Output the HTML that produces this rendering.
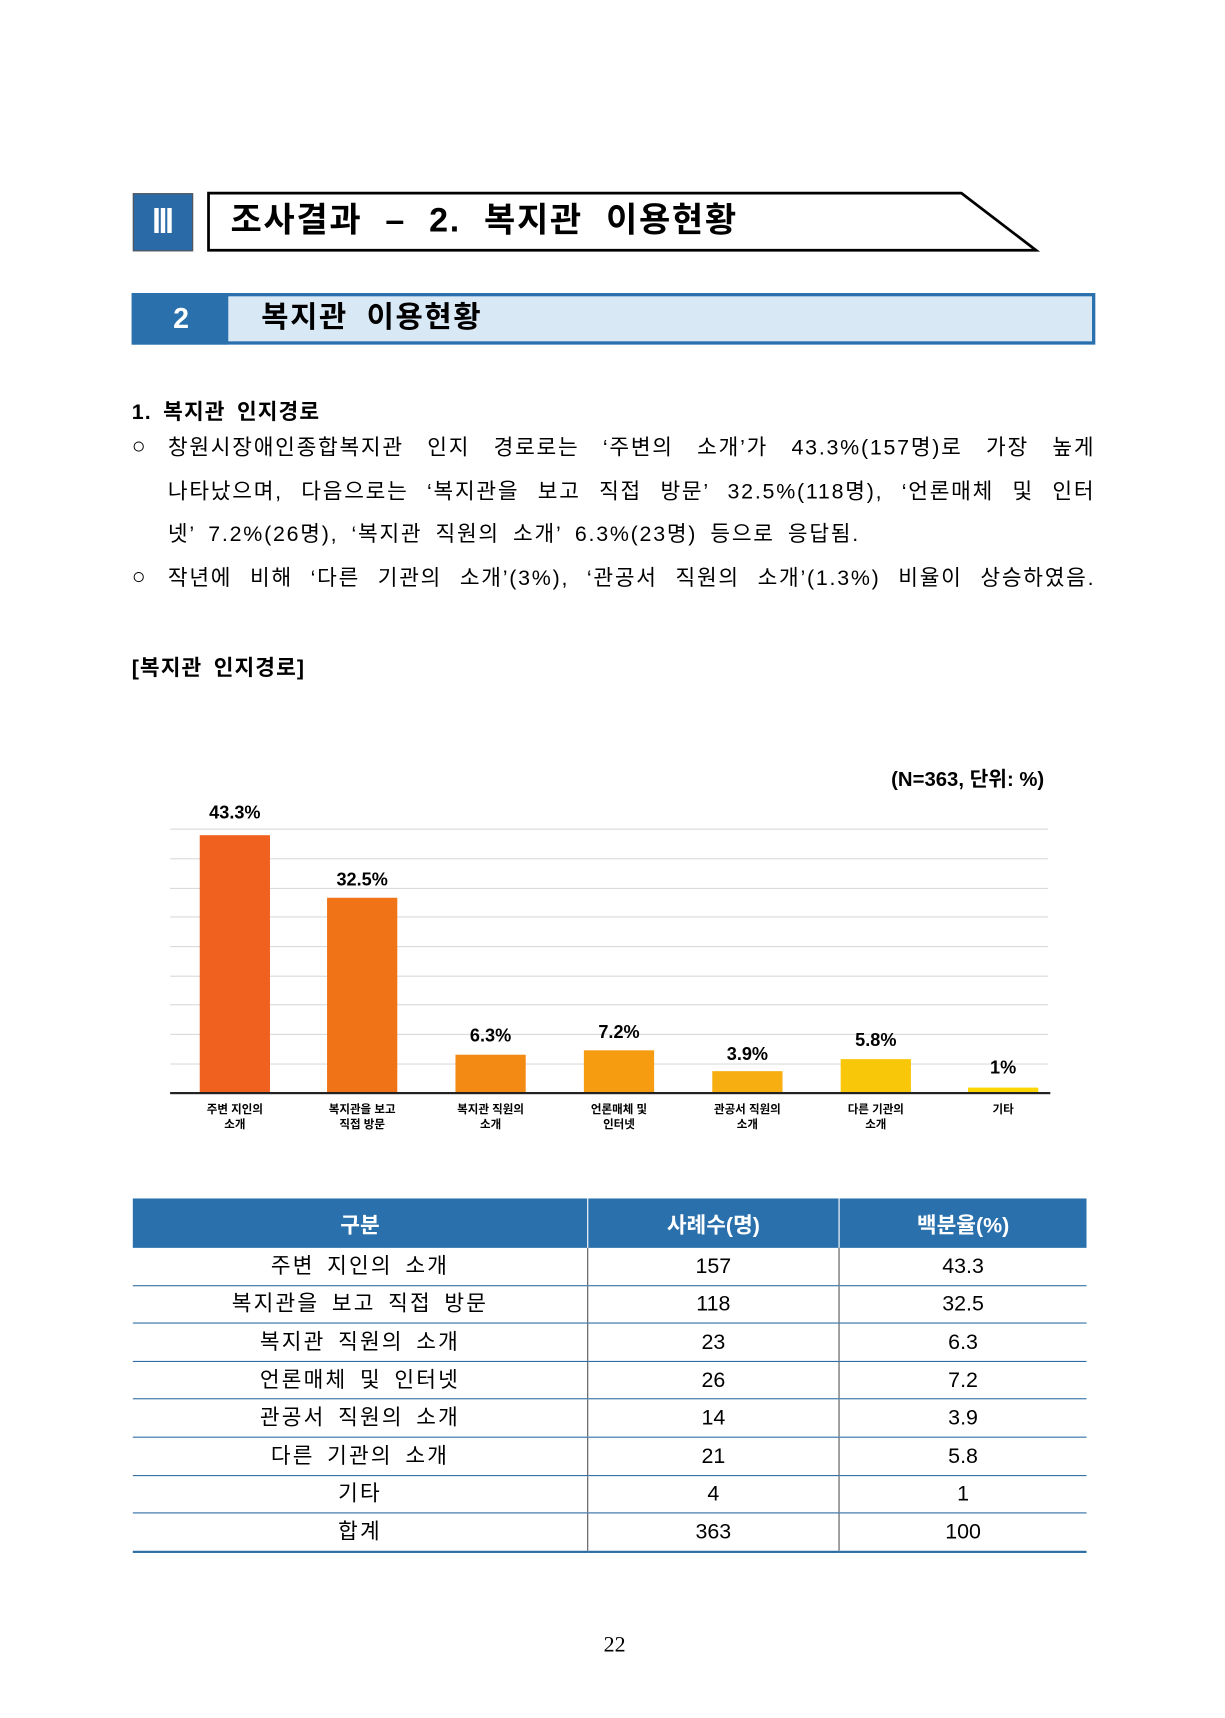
<!DOCTYPE html>
<html><head><meta charset="utf-8">
<style>
html,body{margin:0;padding:0;background:#fff;}
body{width:1225px;height:1718px;overflow:hidden;position:relative;}
#w{position:absolute;left:0;top:0;width:1110px;height:1557px;transform:scale(1.0975);transform-origin:0 0;font-family:"Liberation Sans","Noto Sans CJK KR",sans-serif;color:#000;}
.a{position:absolute;white-space:nowrap;}
.b{font-weight:bold;}
.j{position:absolute;left:153px;width:845px;font-size:19.5px;letter-spacing:1.6px;text-align:justify;text-align-last:justify;white-space:nowrap;line-height:24px;}
.ln{position:absolute;left:0;width:800px;height:1px;background:#d9d9d9;}
.bar{position:absolute;width:64px;}
.v{position:absolute;width:120px;text-align:center;font-weight:bold;font-size:16.5px;}
.xl{position:absolute;width:120px;text-align:center;font-weight:bold;font-size:10.5px;line-height:14px;}
table{position:absolute;left:121px;top:1092px;width:869px;border-collapse:collapse;font-size:19.5px;}
td{height:33.6px;padding:0;text-align:center;border-bottom:1px solid #2e6da4;line-height:24px;}
td.k{letter-spacing:2px;word-spacing:4px;}
td+td{border-left:1px solid #555;}
th{background:#2a70ad;color:#fff;height:45px;font-weight:bold;font-size:19.5px;padding:0;}
th+th{border-left:1px solid #fff;}
</style></head><body><div id="w">
<div class="a" style="left:121px;top:176px;width:55px;height:53px;background:#2a6aa6;border:1px solid #555;box-sizing:border-box;"></div>
<div class="a b" style="left:121px;top:176px;width:55px;height:53px;text-align:center;line-height:53px;color:#fff;font-size:30px;font-family:'Liberation Serif',serif;">Ⅲ</div>
<svg class="a" style="left:188px;top:174px" width="760" height="58"><polygon points="2,2 688,2 756,54 2,54" fill="#fff" stroke="#000" stroke-width="2.5"/></svg>
<div class="a b" style="left:210px;top:180px;font-size:31px;line-height:42px;letter-spacing:1.5px;word-spacing:11px;">조사결과 – 2. 복지관 이용현황</div>
<div class="a" style="left:120px;top:267px;width:878px;height:47px;background:#d8e8f5;border:3px solid #2a70ad;box-sizing:border-box;"></div>
<div class="a" style="left:120px;top:267px;width:88px;height:47px;background:#2a70ad;"></div>
<div class="a b" style="left:120px;top:267px;width:90px;text-align:center;line-height:47px;color:#fff;font-size:26px;">2</div>
<div class="a b" style="left:238px;top:267px;line-height:44px;font-size:27px;letter-spacing:1.5px;word-spacing:8px;">복지관 이용현황</div>
<div class="a b" style="left:120px;top:359px;font-size:19.5px;letter-spacing:1px;word-spacing:4px;">1. 복지관 인지경로</div>
<div class="a" style="left:120px;top:395px;font-size:21px;">○</div>
<div class="a" style="left:120px;top:514px;font-size:21px;">○</div>
<div class="j" style="top:396px;">창원시장애인종합복지관 인지 경로로는 ‘주변의 소개’가 43.3%(157명)로 가장 높게</div>
<div class="j" style="top:436px;">나타났으며, 다음으로는 ‘복지관을 보고 직접 방문’ 32.5%(118명), ‘언론매체 및 인터</div>
<div class="a" style="left:153px;top:475px;font-size:19.5px;line-height:24px;letter-spacing:1.6px;word-spacing:5px;">넷’ 7.2%(26명), ‘복지관 직원의 소개’ 6.3%(23명) 등으로 응답됨.</div>
<div class="j" style="top:515px;">작년에 비해 ‘다른 기관의 소개’(3%), ‘관공서 직원의 소개’(1.3%) 비율이 상승하였음.</div>
<div class="a b" style="left:120px;top:592px;font-size:19.5px;letter-spacing:1px;word-spacing:4px;">[복지관 인지경로]</div>
<div class="a b" style="left:812px;top:696px;font-size:18.5px;">(N=363, 단위: %)</div>
<div class="a" style="left:155px;top:0;width:800px;height:1000px;">
<div class="ln" style="top:755px"></div><div class="ln" style="top:782px"></div><div class="ln" style="top:809px"></div><div class="ln" style="top:835px"></div><div class="ln" style="top:862px"></div><div class="ln" style="top:889px"></div><div class="ln" style="top:915px"></div><div class="ln" style="top:942px"></div><div class="ln" style="top:969px"></div>
</div>
<div class="bar" style="left:182px;top:761px;height:235px;background:#f0601e"></div>
<div class="bar" style="left:298px;top:818px;height:178px;background:#f07318"></div>
<div class="bar" style="left:415px;top:961px;height:35px;background:#f28a14"></div>
<div class="bar" style="left:532px;top:957px;height:39px;background:#f59c10"></div>
<div class="bar" style="left:649px;top:976px;height:20px;background:#f7ae10"></div>
<div class="bar" style="left:766px;top:965px;height:31px;background:#f9c70a"></div>
<div class="bar" style="left:882px;top:991px;height:5px;background:#fad500"></div>
<div class="a" style="left:155px;top:995px;width:802px;height:2px;background:#222;"></div>
<div class="v" style="left:154px;top:732px">43.3%</div>
<div class="v" style="left:270px;top:793px">32.5%</div>
<div class="v" style="left:387px;top:935px">6.3%</div>
<div class="v" style="left:504px;top:932px">7.2%</div>
<div class="v" style="left:621px;top:952px">3.9%</div>
<div class="v" style="left:738px;top:939px">5.8%</div>
<div class="v" style="left:854px;top:964px">1%</div>
<div class="xl" style="left:154px;top:1004px">주변 지인의<br>소개</div>
<div class="xl" style="left:270px;top:1004px">복지관을 보고<br>직접 방문</div>
<div class="xl" style="left:387px;top:1004px">복지관 직원의<br>소개</div>
<div class="xl" style="left:504px;top:1004px">언론매체 및<br>인터넷</div>
<div class="xl" style="left:621px;top:1004px">관공서 직원의<br>소개</div>
<div class="xl" style="left:738px;top:1004px">다른 기관의<br>소개</div>
<div class="xl" style="left:854px;top:1004px">기타</div>
<table>
<tr><th style="width:414px">구분</th><th style="width:228px">사례수(명)</th><th>백분율(%)</th></tr>
<tr><td class="k">주변 지인의 소개</td><td>157</td><td>43.3</td></tr>
<tr><td class="k">복지관을 보고 직접 방문</td><td>118</td><td>32.5</td></tr>
<tr><td class="k">복지관 직원의 소개</td><td>23</td><td>6.3</td></tr>
<tr><td class="k">언론매체 및 인터넷</td><td>26</td><td>7.2</td></tr>
<tr><td class="k">관공서 직원의 소개</td><td>14</td><td>3.9</td></tr>
<tr><td class="k">다른 기관의 소개</td><td>21</td><td>5.8</td></tr>
<tr><td class="k">기타</td><td>4</td><td>1</td></tr>
<tr><td class="k" style="border-bottom:2px solid #2e6da4">합계</td><td style="border-bottom:2px solid #2e6da4">363</td><td style="border-bottom:2px solid #2e6da4">100</td></tr>
</table>
<div class="a" style="left:540px;top:1488px;width:40px;text-align:center;font-size:20px;font-family:'Liberation Serif',serif;">22</div>
</div></body></html>
